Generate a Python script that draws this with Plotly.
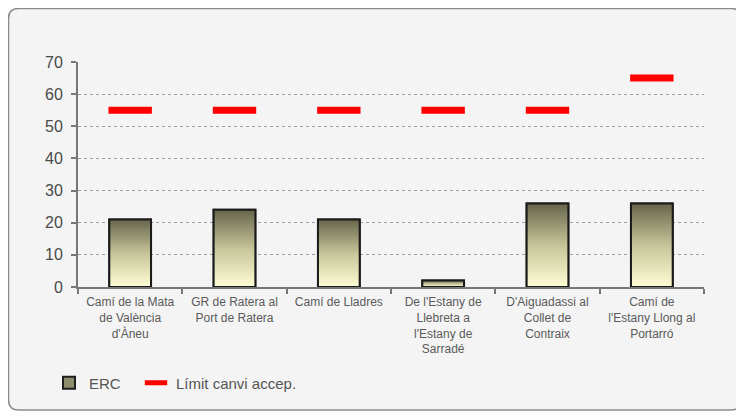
import plotly.graph_objects as go

categories = [
    "Camí de la Mata<br>de València<br>d'Àneu",
    "GR de Ratera al<br>Port de Ratera",
    "Camí de Lladres",
    "De l'Estany de<br>Llebreta a<br>l'Estany de<br>Sarradé",
    "D'Aiguadassi al<br>Collet de<br>Contraix",
    "Camí de<br>l'Estany Llong al<br>Portarró",
]
erc_values = [21, 24, 21, 2, 26, 26]
limit_values = [55, 55, 55, 55, 55, 65]
y_ticks = [0, 10, 20, 30, 40, 50, 60, 70]

positions = list(range(len(categories)))
bar_w = 0.4

# figure is placed at page offset (8, 8)
W, H = 744, 411
L, R, T, B = 70, 48, 54, 132
pw, ph = W - L - R, H - T - B


def px(x):
    return (x - L) / pw


def py(y):
    return (H - B - y) / ph


fig = go.Figure()

fig.add_trace(go.Bar(
    x=positions, y=erc_values, width=bar_w, name="ERC",
    marker=dict(color="#8f8e6c", line=dict(color="#1e1e1e", width=2)),
    hoverinfo="skip", legend="legend",
))

# gradient overlays for each bar (from the same data)
for xi, v in zip(positions, erc_values):
    fig.add_trace(go.Scatter(
        x=[xi - bar_w / 2, xi + bar_w / 2, xi + bar_w / 2, xi - bar_w / 2, xi - bar_w / 2],
        y=[0, 0, v, v, 0],
        mode="lines", fill="toself",
        fillgradient=dict(type="vertical",
                          colorscale=[[0, "#fffdd3"], [0.5, "#c6c499"], [1, "#66654b"]]),
        line=dict(color="#1a1a1a", width=2),
        showlegend=False, hoverinfo="skip",
    ))

fig.add_trace(go.Scatter(
    x=positions, y=limit_values, mode="markers", name="Límit canvi accep.",
    marker=dict(symbol="line-ew", size=31, color="#ff0000",
                line=dict(color="#ff0000", width=7)),
    hoverinfo="skip", legend="legend2",
))

# rounded frame
r = 10
x0, x1 = px(0.5), px(733)
y0, y1 = py(402), py(0.5)
rx, ry = r / pw, r / ph
path = (f"M{x0+rx},{y1} L{x1-rx},{y1} Q{x1},{y1} {x1},{y1-ry} "
        f"L{x1},{y0+ry} Q{x1},{y0} {x1-rx},{y0} L{x0+rx},{y0} "
        f"Q{x0},{y0} {x0},{y0+ry} L{x0},{y1-ry} Q{x0},{y1} {x0+rx},{y1} Z")
shapes = [
    dict(type="path", xref="paper", yref="paper", path=path,
         fillcolor="#f4f4f4", line=dict(color="#8a8a8a", width=1.5), layer="below"),
]

legend_font = dict(family="Liberation Sans, Arial", size=15, color="#555555")

fig.update_layout(
    width=W, height=H,
    margin=dict(l=L, r=R, t=T, b=B),
    paper_bgcolor="white", plot_bgcolor="rgba(0,0,0,0)",
    shapes=shapes,
    showlegend=True,
    legend=dict(orientation="h", x=px(41), xanchor="left", y=py(375), yanchor="middle",
                bgcolor="rgba(0,0,0,0)", font=legend_font, itemwidth=30),
    legend2=dict(orientation="h", x=px(128), xanchor="left", y=py(375), yanchor="middle",
                 bgcolor="rgba(0,0,0,0)", font=legend_font, itemwidth=30),
    font=dict(family="Liberation Sans, Arial"),
    xaxis=dict(
        range=[-0.5, 5.5], tickmode="array", tickvals=positions, ticktext=categories,
        ticks="", showgrid=False, zeroline=False,
        showline=True, linecolor="#777777", linewidth=2,
        tickfont=dict(size=12, color="#5a5a5a"), tickangle=0, ticklabelstandoff=3,
        minor=dict(tickmode="array", tickvals=[p - 0.5 for p in positions] + [5.5],
                   ticks="outside", ticklen=5, tickwidth=1.5, tickcolor="#777777", showgrid=False),
    ),
    yaxis=dict(
        range=[0, 70], tickmode="array", tickvals=y_ticks,
        showgrid=True, gridcolor="#a0a0a0", griddash="3px,3px", gridwidth=1,
        zeroline=False, showline=True, linecolor="#777777", linewidth=2,
        ticks="outside", ticklen=5, tickwidth=1.5, tickcolor="#777777",
        tickfont=dict(size=16, color="#4a4a4a"), ticklabelstandoff=5,
    ),
    bargap=0.6,
)

fig.write_html("out.html")
